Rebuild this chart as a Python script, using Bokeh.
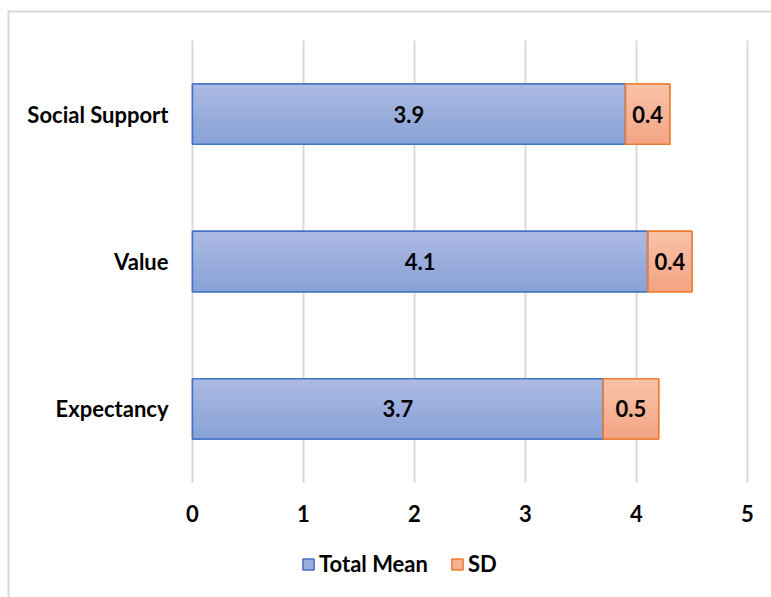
from bokeh.plotting import figure
from bokeh.models import (ColumnDataSource, Range1d, Legend, LegendItem, BoxAnnotation)
from bokeh.transform import dodge
from bokeh.core.properties import value
from bokeh.embed import file_html
from bokeh.resources import INLINE

# Data
categories = ["Social Support", "Value", "Expectancy"]
total_mean = [3.9, 4.1, 3.7]
sd = [0.4, 0.4, 0.5]
x_ticks = [0, 1, 2, 3, 4, 5]
x_tick_labels = ["0", "1", "2", "3", "4", "5"]

FONT = "Lato"
FSIZE = "22px"
BAR_H = 0.41

W, H = 771, 597
# plot-area placement on the canvas (pixels)
PL, PR, PT, PB = 192, 747, 40, 482
X0, X1 = 0.0, 5.0
n = len(categories)
Y0, Y1 = -0.5, n - 0.5
xpp = (X1 - X0) / (PR - PL)
ypp = (Y1 - Y0) / (PB - PT)

ypos = [n - 1 - i for i in range(n)]  # first category on top

src = ColumnDataSource(dict(
    y=ypos,
    cat=categories,
    mean=total_mean,
    sd=sd,
    end=[m + s for m, s in zip(total_mean, sd)],
    mean_mid=[m / 2 for m in total_mean],
    sd_mid=[m + s / 2 for m, s in zip(total_mean, sd)],
    mean_txt=[f"{m:.1f}" for m in total_mean],
    sd_txt=[f"{s:.1f}" for s in sd],
))
tick_src = ColumnDataSource(dict(x=x_ticks, lbl=x_tick_labels,
                                 y0=[Y0] * len(x_ticks), y1=[Y1] * len(x_ticks)))

p = figure(
    width=W, height=H,
    x_range=Range1d(X0 - PL * xpp, X1 + (W - PR) * xpp),
    y_range=Range1d(Y0 - (H - PB) * ypp, Y1 + PT * ypp),
    output_backend="svg", toolbar_location=None,
    min_border=0,
)
p.axis.visible = False
p.grid.visible = False
p.outline_line_color = None
p.background_fill_color = "white"
p.border_fill_color = "white"

# Outer chart border: left and top edges as thin filled strips
edge = dict(fill_color="#d9d9d9", fill_alpha=1, line_color=None, level="underlay",
            left_units="screen", right_units="screen",
            top_units="screen", bottom_units="screen")
p.add_layout(BoxAnnotation(left=7, right=9, top=H - 10, bottom=-50, **edge))
p.add_layout(BoxAnnotation(left=7, right=W + 50, top=H - 10, bottom=H - 12, **edge))

# Vertical gridlines
p.segment(x0="x", y0="y0", x1="x", y1="y1", source=tick_src,
          line_color="#d9d9d9", line_width=2)

# Base bars (used by the legend)
r_mean = p.hbar(y="y", left=0, right="mean", height=BAR_H, source=src,
                fill_color="#9aaddc", line_color="#4472c4", line_width=1.5)
r_sd = p.hbar(y="y", left="mean", right="end", height=BAR_H, source=src,
              fill_color="#f5b193", line_color="#ed7d31", line_width=1.5)

# Vertical gradient shading, drawn as thin strips over the bars
N = 14
def lerp(c1, c2, t):
    a = [int(c1[i:i + 2], 16) for i in (1, 3, 5)]
    b = [int(c2[i:i + 2], 16) for i in (1, 3, 5)]
    return "#" + "".join(f"{round(x + (y - x) * t):02x}" for x, y in zip(a, b))

strip = BAR_H / N
for k in range(N):
    t = k / (N - 1)
    off = BAR_H / 2 - strip * (k + 0.5)
    p.hbar(y=dodge("y", off), left=0, right="mean",
           height=strip * 1.05, source=src, line_color=None,
           fill_color=lerp("#abbae2", "#89a2d7", t))
    p.hbar(y=dodge("y", off), left="mean", right="end",
           height=strip * 1.05, source=src, line_color=None,
           fill_color=lerp("#f8c2a8", "#f4a584", t))

# Outlines on top of the shading
p.hbar(y="y", left=0, right="mean", height=BAR_H, source=src,
       fill_color=None, line_color="#4472c4", line_width=1.5)
p.hbar(y="y", left="mean", right="end", height=BAR_H, source=src,
       fill_color=None, line_color="#ed7d31", line_width=1.5)

txt = dict(text_font=value(FONT), text_font_style="bold",
           text_font_size=FSIZE, text_color="#000000")

# Value labels
for xcol, tcol in (("mean_mid", "mean_txt"), ("sd_mid", "sd_txt")):
    p.text(x=xcol, y="y", text=tcol, source=src,
           text_align="center", text_baseline="middle", **txt)

# Category labels
p.text(x=X0, y="y", text="cat", source=src, x_offset=-24,
       text_align="right", text_baseline="middle", **txt)

# Value-axis tick labels
p.text(x="x", y="y0", text="lbl", source=tick_src, y_offset=31,
       text_align="center", text_baseline="middle", **txt)

legend = Legend(items=[LegendItem(label="Total Mean", renderers=[r_mean]),
                       LegendItem(label="SD", renderers=[r_sd])],
                orientation="horizontal", location=(301, 20),
                label_text_font=FONT, label_text_font_style="bold",
                label_text_font_size=FSIZE, label_text_color="#000000",
                glyph_width=14, glyph_height=14, spacing=22,
                label_standoff=4, padding=0, margin=0,
                border_line_color=None, background_fill_alpha=0)
p.add_layout(legend, "center")

open("out.html", "w").write(file_html(p, INLINE))
